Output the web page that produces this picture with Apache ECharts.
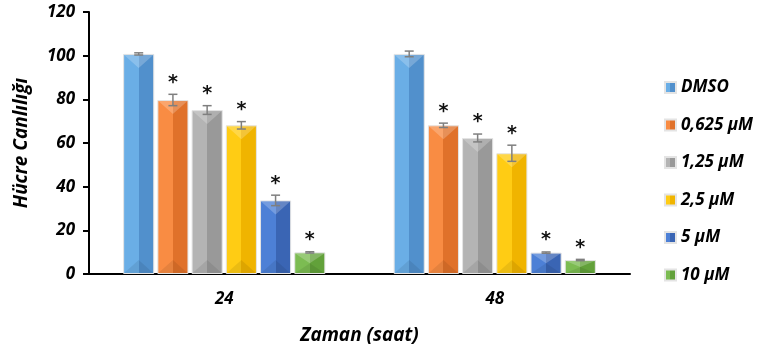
<!DOCTYPE html>
<html>
<head>
<meta charset="utf-8">
<script src="https://cdn.jsdelivr.net/npm/echarts@6/dist/echarts.min.js"></script>
<style>
  html, body { margin: 0; padding: 0; background: #fff; }
  #main { width: 763px; height: 352px; }
</style>
</head>
<body>
<div id="main"></div>
<script>
// zaman noktalari
var categories = ['24', '48'];
var seriesNames = ['DMSO', '0,625 µM', '1,25 µM', '2,5 µM', '5 µM', '10 µM'];
// hucre canliligi ortalama degerleri
var dmso   = [100.8, 100.8];
var d0625  = [79.7, 68.1];
var d125   = [75.1, 62.3];
var d25    = [68.1, 55.3];
var d5     = [33.7, 9.8];
var d10    = [9.9, 6.4];
// hata cubuklari
var errDmso  = [0.5, 1.3];
var err0625  = [2.6, 1.0];
var err125   = [2.0, 1.8];
var err25    = [1.7, 3.7];
var err5     = [2.4, 0.3];
var err10    = [0.3, 0.3];
// anlamlilik isareti
var starDmso = [false, false];
var starOther = [true, true];
var yTicks = [0, 20, 40, 60, 80, 100, 120];

var values = [dmso, d0625, d125, d25, d5, d10];
var errors = [errDmso, err0625, err125, err25, err5, err10];
var stars = [starDmso, starOther, starOther, starOther, starOther, starOther];

var colors = [
  ['#6aaee6', '#5190cc'],
  ['#f98c43', '#e0712a'],
  ['#b4b4b4', '#999999'],
  ['#ffcc14', '#f0b400'],
  ['#4d80d6', '#3a65b4'],
  ['#7cbc52', '#62a13a']
];
var BAR_W = 0.115, BAR_GAP = 0.10;
var fontMain = '"Open Sans", Lato, sans-serif';

function grad(c) {
  return new echarts.graphic.LinearGradient(0, 0, 1, 0, [
    { offset: 0, color: c[0] }, { offset: 0.5, color: c[0] },
    { offset: 0.5, color: c[1] }, { offset: 1, color: c[1] }
  ]);
}

var series = [];
values.forEach(function (v, i) {
  series.push({
    name: seriesNames[i],
    type: 'bar',
    data: v,
    barWidth: (BAR_W * 100) + '%',
    barGap: (BAR_GAP * 100) + '%',
    itemStyle: { color: grad(colors[i]), borderColor: '#e4e4e4', borderWidth: 1 },
    emphasis: { disabled: true }
  });
});

// hata cubuklari, yildizlar ve cubuk ust/alt pahlari
values.forEach(function (v, i) {
  var data = v.map(function (val, k) { return [k, val, errors[i][k], stars[i][k] ? 1 : 0]; });
  series.push({
    type: 'custom',
    name: seriesNames[i] + '_err',
    silent: true,
    z: 5,
    data: data,
    renderItem: function (params, api) {
      var cat = api.value(0), val = api.value(1), e = api.value(2), st = api.value(3);
      var catW = api.size([1, 0])[0];
      var bw = catW * BAR_W;
      var x = api.coord([cat, 0])[0] + (i - 2.5) * bw * (1 + BAR_GAP);
      var y0 = api.coord([cat, 0])[1];
      var yv = api.coord([cat, val])[1];
      var top = api.coord([cat, val + e])[1];
      var bot = api.coord([cat, val - e])[1];
      var hw = bw / 2 - 1;
      var h = Math.min(bw * 0.45, (y0 - yv) / 2);
      var st1 = { stroke: '#7f7f7f', lineWidth: 1.5 };
      var ch = [
        { type: 'polygon', shape: { points: [[x - hw, yv + 1], [x + hw, yv + 1], [x, yv + h]] }, style: { fill: 'rgba(255,255,255,0.22)' } },
        { type: 'polygon', shape: { points: [[x - hw, y0 - 1], [x + hw, y0 - 1], [x, y0 - h]] }, style: { fill: 'rgba(0,0,0,0.08)' } },
        { type: 'line', shape: { x1: x, y1: top, x2: x, y2: bot }, style: st1 },
        { type: 'line', shape: { x1: x - 4.5, y1: top, x2: x + 4.5, y2: top }, style: st1 },
        { type: 'line', shape: { x1: x - 4.5, y1: bot, x2: x + 4.5, y2: bot }, style: st1 }
      ];
      if (st) {
        ch.push({
          type: 'text',
          style: {
            text: '*', x: x, y: top - 2, align: 'center', verticalAlign: 'bottom',
            font: 'bold 19px "DejaVu Sans", sans-serif', fill: '#111'
          }
        });
      }
      return { type: 'group', children: ch };
    }
  });
});

var chart = echarts.init(document.getElementById('main'));
chart.setOption({
  animation: false,
  backgroundColor: '#fff',
  grid: { left: 89, right: 133, top: 12, bottom: 78 },
  legend: {
    data: seriesNames,
    orient: 'vertical',
    left: 659,
    top: 74,
    itemWidth: 11,
    itemHeight: 11,
    itemGap: 20.5,
    icon: 'rect',
    selectedMode: false,
    textStyle: { fontFamily: fontMain, fontStyle: 'italic', fontWeight: 'bold', fontSize: 17, color: '#000', padding: [0, 0, 0, 0] }
  },
  xAxis: {
    type: 'category',
    data: categories,
    axisLine: { lineStyle: { color: '#000', width: 2 } },
    axisTick: { show: false },
    axisLabel: { margin: 17, fontFamily: fontMain, fontStyle: 'italic', fontWeight: 'bold', fontSize: 17, color: '#000' },
    name: 'Zaman (saat)',
    nameLocation: 'middle',
    nameGap: 52,
    nameTextStyle: { fontFamily: fontMain, fontStyle: 'italic', fontWeight: 'bold', fontSize: 19, color: '#000' }
  },
  yAxis: {
    type: 'value',
    min: yTicks[0],
    max: yTicks[yTicks.length - 1],
    interval: 20,
    splitLine: { show: false },
    axisLine: { show: true, lineStyle: { color: '#000', width: 2 } },
    axisTick: { show: true, inside: false, length: 6, lineStyle: { color: '#000', width: 2 } },
    axisLabel: { margin: 14, fontFamily: fontMain, fontStyle: 'italic', fontWeight: 'bold', fontSize: 17, color: '#000' },
    name: 'Hücre Canlılığı',
    nameLocation: 'middle',
    nameGap: 58,
    nameTextStyle: { fontFamily: fontMain, fontStyle: 'italic', fontWeight: 'bold', fontSize: 19, color: '#000' }
  },
  series: series
});
</script>
</body>
</html>
